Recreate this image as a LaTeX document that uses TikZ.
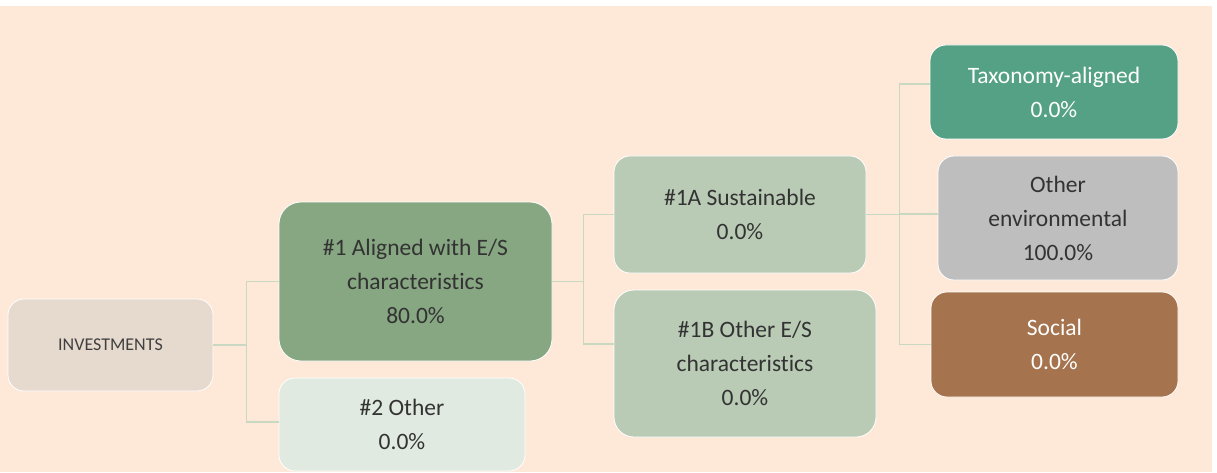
\documentclass[tikz,border=0pt]{standalone}
\usepackage{fontspec}
\setmainfont{Carlito}[Ligatures=NoCommon]
\definecolor{peach}{HTML}{FEE8D8}
\definecolor{investbox}{HTML}{E6D9CE}
\definecolor{alignedbox}{HTML}{87A682}
\definecolor{otherbox}{HTML}{E0EAE0}
\definecolor{subbox}{HTML}{B9CBB5}
\definecolor{taxobox}{HTML}{55A186}
\definecolor{envbox}{HTML}{BEBEBE}
\definecolor{socialbox}{HTML}{A5734D}
\definecolor{linkgreen}{HTML}{C8D8C1}
\begin{document}
\begin{tikzpicture}[x=1pt, y=1pt,
    box/.style={draw=white, line width=0.8pt, rounded corners=16pt, align=center,
      inner sep=0pt, text=black!80, font=\fontsize{23.5}{34}\selectfont},
    link/.style={draw=linkgreen, line width=1.2pt}]
            % Background
            \fill[white] (0,0) rectangle (1217,472);
            \fill[peach] (0,0) rectangle (1212,466);

            % Boxes
            \node at (110.5,127) [box, fill=investbox, minimum width=205pt, minimum height=92pt, text=black!75, font=\fontsize{18}{22}\selectfont] (invest) {INVESTMENTS};
            \node at (415.5,190.5) [box, fill=alignedbox, minimum width=273pt, minimum height=159pt, rounded corners=22pt] (aligned) {\#1 Aligned with E/S\\characteristics\\80.0\%};
            \node at (402,47.5) [box, fill=otherbox, minimum width=246pt, minimum height=93pt] (other) {\#2 Other\\0.0\%};
            \node at (740,257.5) [box, fill=subbox, minimum width=252pt, minimum height=117pt] (sust) {\#1A Sustainable\\0.0\%};
            \node at (745,108.5) [box, fill=subbox, minimum width=262pt, minimum height=147pt, rounded corners=20pt] (otheres) {\#1B Other E/S\\characteristics\\0.0\%};
            \node at (1054,380) [box, fill=taxobox, minimum width=248pt, minimum height=94pt, text=white] (taxo) {Taxonomy-aligned\\0.0\%};
            \node at (1058,254) [box, fill=envbox, minimum width=240pt, minimum height=124pt] (env) {Other\\environmental\\100.0\%};
            \node at (1054.5,127.5) [box, fill=socialbox, minimum width=247pt, minimum height=105pt, text=white] (social) {Social\\0.0\%};

            % Connectors
            \draw[link] (invest.east) -- ++(33,0) |- (aligned.west);
            \draw[link] (invest.east) -- ++(33,0) |- ([yshift=2.5pt]other.west);
            \draw[link] (aligned.east) -- ++(31,0) |- (sust.west);
            \draw[link] (aligned.east) -- ++(31,0) |- ([yshift=19.5pt]otheres.west);
            \draw[link] (sust.east) -- ++(33,0) |- ([yshift=8pt]taxo.west);
            \draw[link] (sust.east) -- ++(33,0) |- ([yshift=4pt]env.west);
            \draw[link] (sust.east) -- ++(33,0) |- (social.west);
\end{tikzpicture}
\end{document}
